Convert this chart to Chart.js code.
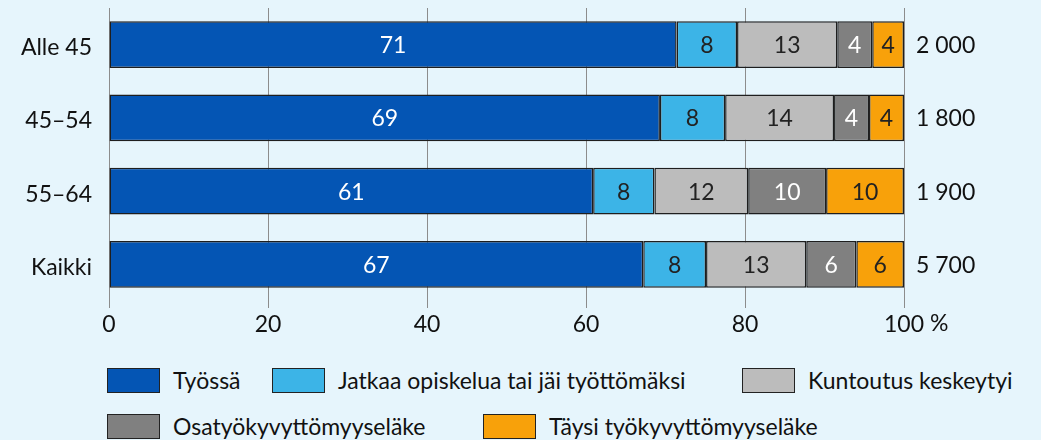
<!DOCTYPE html>
<html>
<head>
<meta charset="utf-8">
<script src="https://cdn.jsdelivr.net/npm/chart.js@4/dist/chart.umd.min.js"></script>
<style>
  html, body { margin: 0; padding: 0; background: #e6f5fc; }
  #wrap { position: relative; width: 1041px; height: 440px; overflow: hidden; }
  #chart { position: absolute; left: 0; top: 0; }
  .leg { position: absolute; font: 23px Lato, sans-serif; color: #111; white-space: nowrap; line-height: 25px; }
  .leg span { display: inline-block; width: 51px; height: 23px; border: 1px solid #222; vertical-align: top; margin-right: 13px; }
</style>
</head>
<body>
<div id="wrap">
  <canvas id="chart" width="1041" height="350"></canvas>
  <div id="legend"></div>
</div>
<script>
// ryhmät
const ryhmat = ['Alle 45', '45–54', '55–64', 'Kaikki'];
const lukumaarat = ['2 000', '1 800', '1 900', '5 700'];

const sarjat = ['Työssä', 'Jatkaa opiskelua tai jäi työttömäksi', 'Kuntoutus keskeytyi', 'Osatyökyvyttömyyseläke', 'Täysi työkyvyttömyyseläke'];
const tyossa = [71.4, 69.3, 60.9, 67.2];
const opiskelu = [7.6, 8.2, 7.7, 7.9];
const keskeytyi = [12.6, 13.7, 11.8, 12.6];
const osaelake = [4.4, 4.4, 9.8, 6.3];
const taysielake = [4.0, 4.4, 9.8, 6.0];
const xTicks = [0, 20, 40, 60, 80, 100];

const varit = ['#0455b4', '#3cb4e7', '#bcbcbc', '#808080', '#f8a10a'];
const tekstiVarit = ['#fff', '#222', '#222', '#fff', '#222'];
const FONT = 'Lato, sans-serif';
const FS = 23;

// legenda html:nä
const legPaikat = [[107, 368], [272, 368], [742, 368], [107, 414], [483, 414]];
const legend = document.getElementById('legend');
sarjat.forEach((s, i) => {
    const d = document.createElement('div');
    d.className = 'leg';
    d.style.left = legPaikat[i][0] + 'px';
    d.style.top = legPaikat[i][1] + 'px';
    d.innerHTML = '<span style="background:' + varit[i] + '"></span>' + s;
    legend.appendChild(d);
});

const tekstit = {
    id: 'tekstit',
    afterDatasetsDraw(chart) {
        const ctx = chart.ctx;
        ctx.save();
        ctx.font = FS + 'px ' + FONT;
        ctx.textBaseline = 'middle';
        ctx.textAlign = 'center';
        chart.data.datasets.forEach((ds, i) => {
            chart.getDatasetMeta(i).data.forEach((bar, j) => {
                ctx.fillStyle = tekstiVarit[i];
                ctx.fillText(Math.round(ds.data[j]), (bar.x + bar.base) / 2, bar.y + 1);
            });
        });
        // lukumäärät oikealla
        ctx.fillStyle = '#111';
        ctx.textAlign = 'left';
        const meta = chart.getDatasetMeta(0);
        meta.data.forEach((bar, j) => {
            ctx.fillText(lukumaarat[j], chart.chartArea.right + 12, bar.y + 1);
        });
        // % viimeisen tikin perään
        const x = chart.scales.x.getPixelForValue(100);
        ctx.textBaseline = 'top';
        ctx.fillText(' %', x + ctx.measureText('100').width / 2, chart.chartArea.bottom + 11);
        ctx.restore();
    }
};

const datasets = [tyossa, opiskelu, keskeytyi, osaelake, taysielake].map((d, i) => ({
    label: sarjat[i],
    data: d,
    backgroundColor: varit[i],
    borderColor: '#1e1e1e',
    borderWidth: 1.5,
    borderSkipped: false,
    barPercentage: 0.64,
    categoryPercentage: 1
}));

new Chart(document.getElementById('chart'), {
    type: 'bar',
    data: { labels: ryhmat, datasets: datasets },
    options: {
        indexAxis: 'y',
        responsive: false,
        animation: false,
        layout: { padding: { top: 8, right: 137, left: 0, bottom: 0 } },
        plugins: { legend: { display: false }, tooltip: { enabled: false } },
        scales: {
            x: {
                stacked: true,
                min: 0, max: 100,
                afterBuildTicks: s => { s.ticks = xTicks.map(v => ({ value: v })); },
                grid: { color: '#8c8c8c', lineWidth: 1, tickLength: 7, drawTicks: true },
                border: { display: false },
                ticks: { color: '#111', font: { family: FONT, size: FS }, padding: 3, maxRotation: 0 },
                afterFit: s => { s.height = 49; s.paddingLeft = 0; s.paddingRight = 0; }
            },
            y: {
                stacked: true,
                grid: { display: false },
                border: { display: false },
                ticks: { color: '#111', font: { family: FONT, size: FS }, padding: 9, labelOffset: 3 },
                afterFit: s => { s.width = 109; s.paddingTop = 0; s.paddingBottom = 0; }
            }
        }
    },
    plugins: [tekstit]
});
</script>
</body>
</html>
